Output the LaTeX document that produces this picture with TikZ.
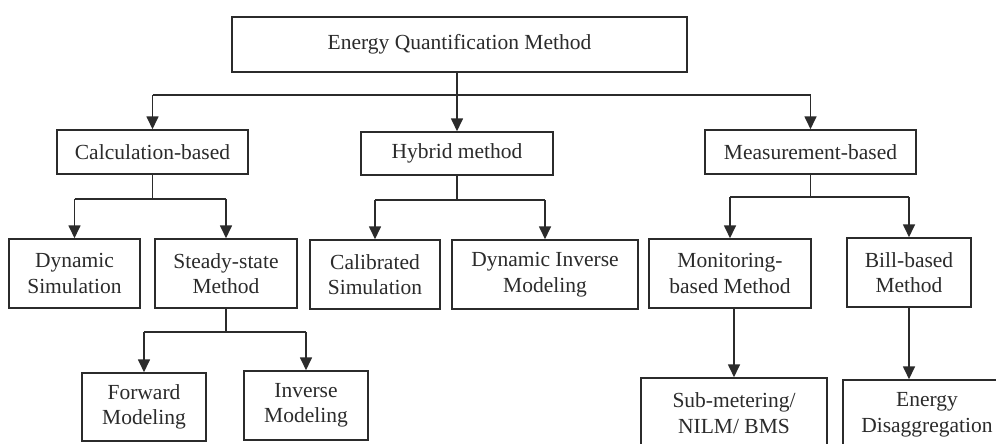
\documentclass[tikz,border=0pt]{standalone}
\usepackage{fontspec}
\setmainfont{Liberation Serif}
\usetikzlibrary{arrows.meta}
\definecolor{ink}{HTML}{2B2B2B}
\tikzset{
  box/.style={draw=ink, line width=1.5pt, text=ink, inner sep=0pt, align=center,
    font=\fontsize{21.5}{25.5}\selectfont},
  conn/.style={draw=ink, line width=1.7pt},
  arr/.style={conn, -{Triangle[width=12pt,length=13pt]}}
}
\begin{document}
\begin{tikzpicture}[x=1pt,y=-1pt]
\clip (0,0) rectangle (996,444);
\fill[white] (0,0) rectangle (996,444);
% level 0
\node[box, minimum width=455pt, minimum height=55pt] (top) at (459.5,44.5) {Energy Quantification Method};
% level 1
\node[box, minimum width=191pt, minimum height=44pt] (calc) at (152.5,152) {Calculation-based};
\node[box, minimum width=192pt, minimum height=43pt] (hyb) at (457,153.5) {Hybrid method};
\node[box, minimum width=211pt, minimum height=44pt] (meas) at (810.5,152) {Measurement-based};
% level 2
\node[box, minimum width=131pt, minimum height=69pt] (dyn) at (74.5,273.5) {Dynamic\\Simulation};
\node[box, minimum width=142pt, minimum height=69pt] (steady) at (226,273.5) {Steady-state\\Method};
\node[box, minimum width=130pt, minimum height=69pt] (calib) at (375,274.5) {Calibrated\\Simulation};
\node[box, minimum width=186pt, minimum height=69pt] (dyninv) at (545,274.5) {Dynamic Inverse\\Modeling};
\node[box, minimum width=162pt, minimum height=69pt] (monit) at (730,273.5) {Monitoring-\\based Method};
\node[box, minimum width=124pt, minimum height=69pt] (bill) at (909,272.5) {Bill-based\\Method};
% level 3
\node[box, minimum width=124pt, minimum height=68pt] (fwd) at (144,407) {Forward\\Modeling};
\node[box, minimum width=124pt, minimum height=69pt] (inv) at (306,405.5) {Inverse\\Modeling};
\node[box, minimum width=186pt, minimum height=70pt] (sub) at (734,413) {Sub-metering/\\NILM/ BMS};
\node[box, minimum width=168pt, minimum height=70pt] (en) at (927,415) {Energy\\Disaggregation};
% connectors: top
\coordinate (b0) at (0,95);
\draw[conn] (b0 -| calc.north) -- (b0 -| meas.north);
\draw[arr] (hyb.north |- top.south) -- (hyb.north);
\draw[arr] (b0 -| calc.north) -- (calc.north);
\draw[arr] (b0 -| meas.north) -- (meas.north);
% calc
\coordinate (b1) at (0,199);
\draw[conn] (calc.south) -- (b1 -| calc.south);
\draw[conn] (b1 -| dyn.north) -- (b1 -| steady.north);
\draw[arr] (b1 -| dyn.north) -- (dyn.north);
\draw[arr] (b1 -| steady.north) -- (steady.north);
% hybrid
\coordinate (b2) at (0,200);
\draw[conn] (hyb.south) -- (b2 -| hyb.south);
\draw[conn] (b2 -| calib.north) -- (b2 -| dyninv.north);
\draw[arr] (b2 -| calib.north) -- (calib.north);
\draw[arr] (b2 -| dyninv.north) -- (dyninv.north);
% measurement
\coordinate (b3) at (0,197);
\draw[conn] (meas.south) -- (b3 -| meas.south);
\draw[conn] (b3 -| monit.north) -- (b3 -| bill.north);
\draw[arr] (b3 -| monit.north) -- (monit.north);
\draw[arr] (b3 -| bill.north) -- (bill.north);
% steady-state
\coordinate (b4) at (0,332);
\draw[conn] (steady.south) -- (b4 -| steady.south);
\draw[conn] (b4 -| fwd.north) -- (b4 -| inv.north);
\draw[arr] (b4 -| fwd.north) -- (fwd.north);
\draw[arr] (b4 -| inv.north) -- (inv.north);
% monitoring / bill
\draw[arr] (monit.south -| sub.north) -- (sub.north);
\draw[arr] (bill.south) -- (bill.south |- en.north);
\end{tikzpicture}
\end{document}
